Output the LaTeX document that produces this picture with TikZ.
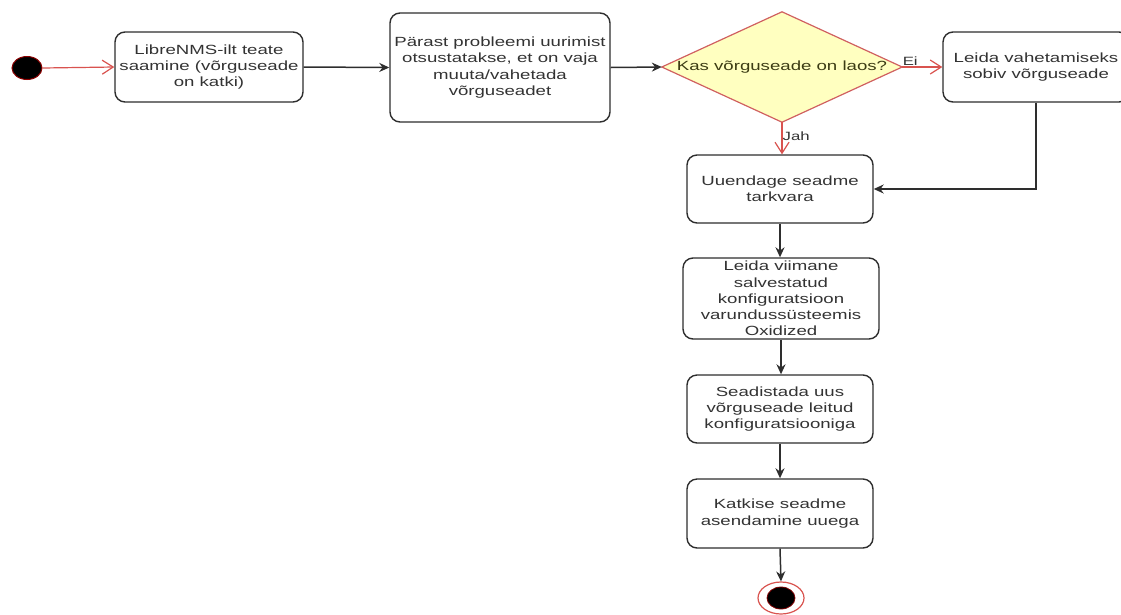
\documentclass[tikz,border=0pt]{standalone}
\usepackage{fontspec}
\setmainfont{Liberation Sans}[FakeStretch=1.4]
\usetikzlibrary{arrows.meta,shapes.geometric}
\definecolor{txt}{HTML}{333333}
\definecolor{edge}{HTML}{2E2E2E}
\definecolor{flowred}{HTML}{D9534F}
\definecolor{decfill}{HTML}{FFFFC0}
\definecolor{decline}{HTML}{D06060}
\definecolor{dectxt}{HTML}{3C3C14}
\tikzset{
  activity/.style={draw=edge, line width=1.4pt, fill=white, rounded corners=10pt,
    align=center, text=txt, inner sep=0pt,
    font=\fontsize{13.3}{16.2}\selectfont},
  flow/.style={draw=edge, line width=1.5pt, -{Stealth[length=10pt,width=9pt]}},
  guard/.style={draw=flowred, line width=1.2pt, -{Straight Barb[length=11pt,width=14pt]}},
  guardlabel/.style={text=txt, font=\fontsize{12}{13}\selectfont, inner sep=1pt},
}
\begin{document}
\begin{tikzpicture}[x=1pt,y=-1pt]
\useasboundingbox (0,0) rectangle (1121,614);
\clip (0,0) rectangle (1121,614);

% initial state
\node[ellipse, draw=red!55!black, line width=1pt, fill=black,
      minimum width=30pt, minimum height=23pt, inner sep=0pt] (start) at (27,68) {};

% activities
\node[activity, minimum width=188pt, minimum height=70pt] (notice) at (209,67)
  {LibreNMS-ilt teate\\saamine (võrguseade\\on katki)};
\node[activity, minimum width=220pt, minimum height=109pt] (decide) at (500,67.5)
  {Pärast probleemi uurimist\\otsustatakse, et on vaja\\muuta/vahetada\\võrguseadet};

% decision
\node[minimum width=240pt, minimum height=110pt, inner sep=0pt] (stock) at (782,67) {};
\fill[decfill] (stock.west) -- (stock.north) -- (stock.east) -- (stock.south) -- cycle;
\draw[decline, line width=1.2pt, line join=miter]
  (stock.west) -- (stock.north) -- (stock.east) -- (stock.south) -- cycle;
\node[text=dectxt, font=\fontsize{13.3}{16}\selectfont] at (stock.center) {Kas võrguseade on laos?};

\node[activity, minimum width=186pt, minimum height=70pt] (find) at (1036,67)
  {Leida vahetamiseks\\sobiv võrguseade};
\node[activity, minimum width=186pt, minimum height=68pt] (update) at (780,189)
  {Uuendage seadme\\tarkvara};
\node[activity, minimum width=196pt, minimum height=81pt] (config) at (781,298.5)
  {Leida viimane\\salvestatud\\konfiguratsioon\\varundussüsteemis\\Oxidized};
\node[activity, minimum width=186pt, minimum height=68pt] (setup) at (780,409)
  {Seadistada uus\\võrguseade leitud\\konfiguratsiooniga};
\node[activity, minimum width=186pt, minimum height=69pt] (replace) at (780,513.5)
  {Katkise seadme\\asendamine uuega};

% final state
\node[ellipse, draw=flowred, line width=1.2pt, fill=white,
      minimum width=46pt, minimum height=32pt, inner sep=0pt] (final) at (781,598) {};
\node[ellipse, fill=black, draw=red!50!black, line width=0.8pt,
      minimum width=28pt, minimum height=22pt, inner sep=0pt] (finalcore) at (final.center) {};

% control flows
\draw[guard] (start.east) -- (notice.west);
\draw[flow] (notice.east) -- (decide.west);
\draw[flow] (decide.east) -- (stock.west);
\draw[guard] (stock.east) -- node[guardlabel, above, pos=0.2] {Ei} (find.west);
\draw[guard] (stock.south) -- node[guardlabel, right, pos=0.45, xshift=-1pt] {Jah} (stock.south |- update.north);
\draw[flow] (find.south) |- (update.east);
\draw[flow] (update.south) -- (update.south |- config.north);
\draw[flow] (config.south) -- (config.south |- setup.north);
\draw[flow] (setup.south) -- (replace.north);
\draw[flow] (replace.south) -- (final.north);
\end{tikzpicture}
\end{document}
